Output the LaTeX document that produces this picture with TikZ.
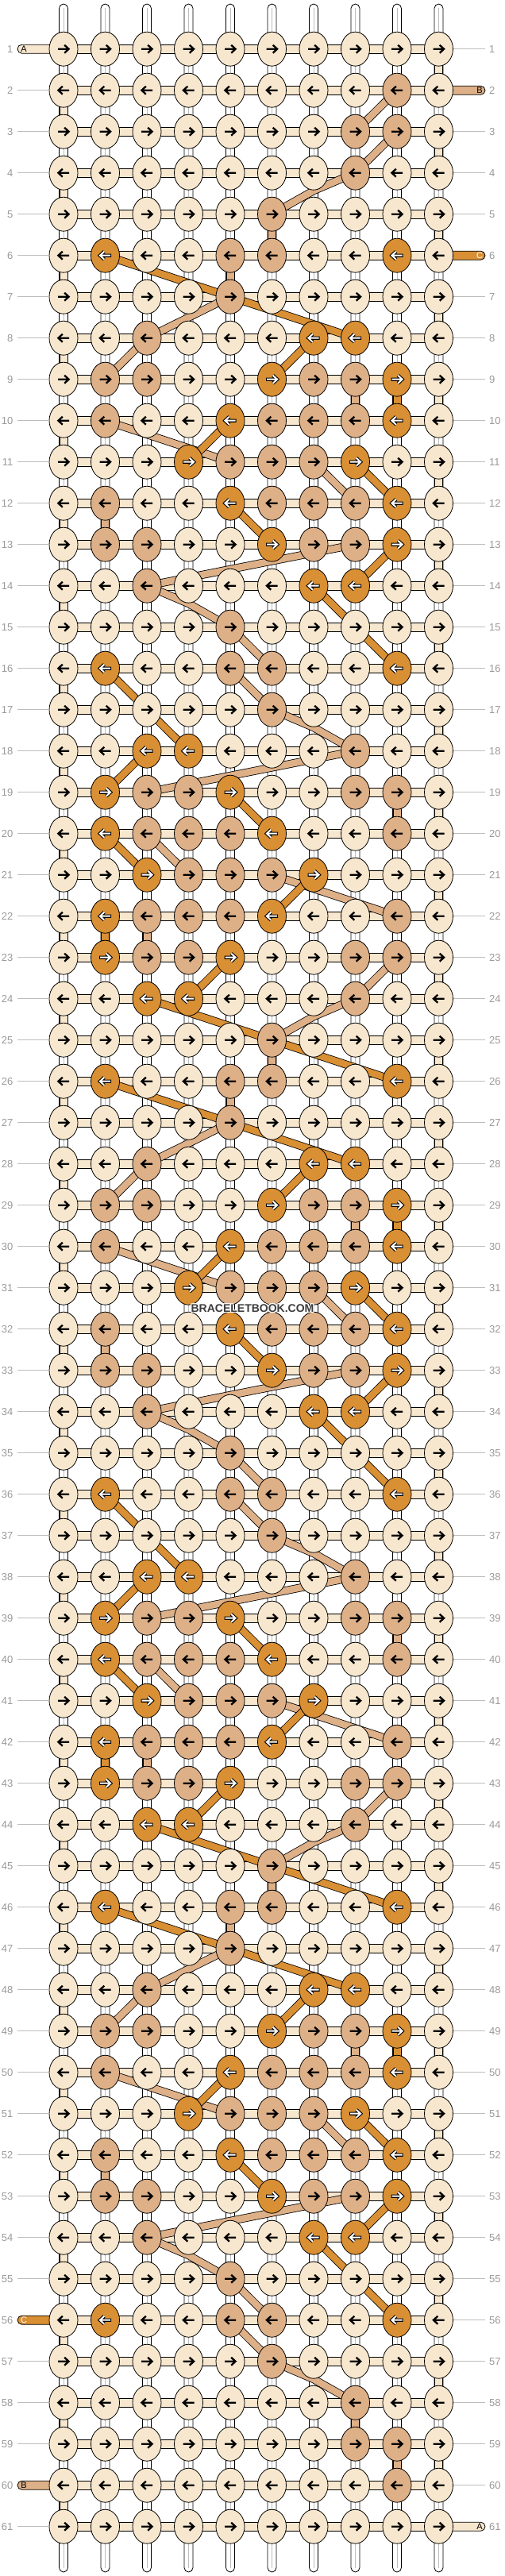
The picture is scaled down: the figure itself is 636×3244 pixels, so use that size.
\documentclass[tikz,border=0pt]{standalone}
\usepackage{fontspec}
\setmainfont{Liberation Sans}
\usetikzlibrary{shapes.geometric,calc}
\definecolor{cream}{HTML}{F7E7CE}
\definecolor{tanc}{HTML}{DEB088}
\definecolor{orng}{HTML}{D98F33}
\definecolor{lblgray}{HTML}{9A9A9A}
\definecolor{linegray}{HTML}{BDBDBD}
\definecolor{wmgray}{HTML}{3C3C3C}
\def\orngname{orng}
\newcommand\bbseg[6]{%
  \if#1v\draw[vbox, fill=#6] ([xshift=-5pt]p-#2-#3) rectangle ([xshift=5pt]p-#4-#5);\fi
  \if#1s\draw[band=#6] (p-#2-#3) -- (p-#4-#5);\fi
  \if#1b\draw[band=#6] (p-#2-#3) -- ($(p-#2-#3)!0.5!(p-#2-#5)+(0,22.4)$) -- (p-#4-#5);\fi
}
\tikzset{
  knot/.style={ellipse, draw=black, line width=0.8pt, minimum width=36pt, minimum height=43pt, inner sep=0pt, outer sep=0pt},
  strand/.style={draw=black, line width=0.8pt, fill=white, rounded corners=5.5pt},
  midline/.style={draw=linegray, line width=0.7pt},
  hbar/.style={draw=black, line width=0.8pt, fill=cream},
  vbox/.style={draw=black, line width=0.8pt},
  band/.style={draw=black, double=#1, double distance=8.5pt, line width=0.8pt, line join=round},
  lbl/.style={text=lblgray, font=\fontsize{13}{13}\selectfont, inner sep=0pt},
  gline/.style={draw=linegray, line width=0.9pt},
  pill/.style={draw=black, line width=0.8pt, fill=#1, rounded corners=5.5pt},
  endlbl/.style={font=\fontsize{11}{11}\selectfont, inner sep=0pt},
  wm/.style={font=\fontsize{14}{14}\selectfont\bfseries, inner sep=0pt},
  rarr/.pic={\draw[line width=2.3pt] (-7,0)--(6,0) (1.2,-5)--(6.6,0)--(1.2,5);},
  larr/.pic={\draw[line width=2.3pt] (7,0)--(-6,0) (-1.2,-5)--(-6.6,0)--(-1.2,5);},
  rarrw/.pic={\draw[line width=4.2pt] (-7.5,0)--(6,0) (1.2,-5)--(6.6,0)--(1.2,5);
              \draw[white, line width=2pt] (-6.5,0)--(5.5,0) (1.2,-5)--(6.6,0)--(1.2,5);},
  larrw/.pic={\draw[line width=4.2pt] (7.5,0)--(-6,0) (-1.2,-5)--(-6.6,0)--(-1.2,5);
              \draw[white, line width=2pt] (6.5,0)--(-5.5,0) (-1.2,-5)--(-6.6,0)--(-1.2,5);}
}
\begin{document}
\begin{tikzpicture}[x=1pt,y=-1pt]
\useasboundingbox (0,0) rectangle (636,3244);
\fill[white] (0,0) rectangle (636,3244);
% grid coordinates
\foreach \r in {1,...,61}{\foreach \ca in {1,...,10}{
  \coordinate (p-\r-\ca) at ({80+52.5*(\ca-1)},{61.7+52*(\r-1)});
}}
% vertical base strands
\foreach \ca in {1,...,10}{
  \coordinate (t-\ca) at ({80+52.5*(\ca-1)},5);
  \coordinate (b-\ca) at ({80+52.5*(\ca-1)},3239);
  \draw[strand] ([xshift=-5.5pt]t-\ca) rectangle ([xshift=5.5pt]b-\ca);
  \draw[midline] ([yshift=-5pt]t-\ca) -- ([yshift=5pt]b-\ca);
}
% working strand turns at the edges
\foreach \r in {1,3,...,59}{
  \pgfmathtruncatemacro\rs{\r+1}
  \draw[vbox, fill=cream] ([xshift=-5pt]p-\r-10) rectangle ([xshift=5pt]p-\rs-10);
}
\foreach \r in {2,4,...,60}{
  \pgfmathtruncatemacro\rs{\r+1}
  \draw[vbox, fill=cream] ([xshift=-5pt]p-\r-1) rectangle ([xshift=5pt]p-\rs-1);
}
% horizontal working strand
\foreach \r in {1,...,61}{
  \draw[hbar] ([yshift=5.5pt]p-\r-1) rectangle ([yshift=-5.5pt]p-\r-10);
}
% strand ends
\coordinate (e-1) at (22,61.7);
\draw[pill=cream] ([yshift=5.5pt]e-1) rectangle ([yshift=-5.5pt]p-1-1);
\node[endlbl] (el-1) at ([xshift=8pt]e-1) {A};
\coordinate (e-2) at (611,113.7);
\draw[pill=tanc] ([yshift=5.5pt]p-2-10) rectangle ([yshift=-5.5pt]e-2);
\node[endlbl] (el-2) at ([xshift=-7pt]e-2) {B};
\coordinate (e-6) at (611,321.7);
\draw[pill=orng] ([yshift=5.5pt]p-6-10) rectangle ([yshift=-5.5pt]e-6);
\node[endlbl, text=white] (el-6) at ([xshift=-7pt]e-6) {C};
\coordinate (e-56) at (22,2921.7);
\draw[pill=orng] ([yshift=5.5pt]e-56) rectangle ([yshift=-5.5pt]p-56-1);
\node[endlbl, text=white] (el-56) at ([xshift=8pt]e-56) {C};
\coordinate (e-60) at (22,3129.7);
\draw[pill=tanc] ([yshift=5.5pt]e-60) rectangle ([yshift=-5.5pt]p-60-1);
\node[endlbl] (el-60) at ([xshift=8pt]e-60) {B};
\coordinate (e-61) at (611,3181.7);
\draw[pill=cream] ([yshift=5.5pt]p-61-10) rectangle ([yshift=-5.5pt]e-61);
\node[endlbl] (el-61) at ([xshift=-7pt]e-61) {A};
% knot colours
\foreach \k in {0,20,40}{
  \foreach \ra/\ca in {6/5,6/6,7/5,8/3,9/2,9/3,9/7,9/8,10/2,10/6,10/7,10/8,11/5,11/6,11/7,12/2,12/6,12/7,12/8,13/2,13/3,13/7,13/8,14/3,15/5,16/5,16/6,17/6,18/8,19/3,19/4,19/8,19/9,20/3,20/4,20/5,20/9,21/4,21/5,21/6,22/3,22/4,22/5,22/9,23/3,23/4,23/8,23/9,24/8,25/6}{
    \pgfmathtruncatemacro\rr{\ra+\k}
    \ifnum\rr<59 \expandafter\gdef\csname kc-\rr-\ca\endcsname{tanc}\fi
  }
  \foreach \ra/\ca in {6/2,6/9,8/7,8/8,9/6,9/9,10/5,10/9,11/4,11/8,12/5,12/9,13/6,13/9,14/7,14/8,16/2,16/9,18/3,18/4,19/2,19/5,20/2,20/6,21/3,21/7,22/2,22/6,23/2,23/5,24/3,24/4}{
    \pgfmathtruncatemacro\rr{\ra+\k}
    \ifnum\rr<57 \expandafter\gdef\csname kc-\rr-\ca\endcsname{orng}\fi
  }
}
\foreach \ra/\ca in {2/9,3/8,3/9,4/8,5/6,59/8,59/9,60/9}{
  \expandafter\gdef\csname kc-\ra-\ca\endcsname{tanc}
}
% colour strand B (tan)
\foreach \ty/\ra/\ca/\rb/\cb in {s/2/9/3/8,s/3/9/4/8,b/4/8/5/6,v/5/6/6/6,v/58/8/59/8,v/59/9/60/9}{
  \bbseg{\ty}{\ra}{\ca}{\rb}{\cb}{tanc}
}
\foreach \k in {0,20,40}{
  \foreach \ty/\ra/\ca/\rb/\cb in {v/6/5/7/5,s/7/5/8/3,s/8/3/9/2,v/9/8/10/8,s/10/2/11/5,s/11/7/12/8,v/12/2/13/2,s/13/8/14/3,b/14/3/15/5,s/15/5/16/6,s/16/5/17/6,b/17/6/18/8,s/18/8/19/3,v/19/9/20/9,s/20/3/21/4,s/21/6/22/9,v/22/3/23/3,s/23/9/24/8,b/24/8/25/6,v/25/6/26/6}{
    \pgfmathtruncatemacro\rx{\ra+\k}
    \pgfmathtruncatemacro\ry{\rb+\k}
    \ifnum\ry<59 \bbseg{\ty}{\rx}{\ca}{\ry}{\cb}{tanc}\fi
  }
}
% colour strand C (orange)
\foreach \k in {0,20,40}{
  \foreach \ty/\ra/\ca/\rb/\cb in {s/6/2/8/8,s/8/7/9/6,v/9/9/10/9,s/10/5/11/4,s/11/8/12/9,s/12/5/13/6,s/13/9/14/8,s/14/7/16/9,s/16/2/18/4,s/18/3/19/2,s/19/5/20/6,s/20/2/21/3,s/21/7/22/6,v/22/2/23/2,s/23/5/24/4,s/24/3/26/9}{
    \pgfmathtruncatemacro\rx{\ra+\k}
    \pgfmathtruncatemacro\ry{\rb+\k}
    \ifnum\ry<57 \bbseg{\ty}{\rx}{\ca}{\ry}{\cb}{orng}\fi
  }
}
% knots
\foreach \r in {1,...,61}{\foreach \ca in {1,...,10}{
  \ifcsname kc-\r-\ca\endcsname \edef\kcol{\csname kc-\r-\ca\endcsname}\else \def\kcol{cream}\fi
  \node[knot, fill=\kcol] (n-\r-\ca) at (p-\r-\ca) {};
  \ifx\kcol\orngname
    \ifodd\r \pic at (p-\r-\ca) {rarrw};\else \pic at (p-\r-\ca) {larrw};\fi
  \else
    \ifodd\r \pic at (p-\r-\ca) {rarr};\else \pic at (p-\r-\ca) {larr};\fi
  \fi
}}
% row numbers and guide lines
\foreach \r in {1,...,61}{
  \node[lbl, anchor=east] (ll-\r) at (16.5,{61.7+52*(\r-1)}) {\r};
  \node[lbl, anchor=west] (rl-\r) at (616,{61.7+52*(\r-1)}) {\r};
  \coordinate (gl-\r) at (22,{61.7+52*(\r-1)});
  \coordinate (gr-\r) at (611,{61.7+52*(\r-1)});
}
\foreach \r in {2,...,55,57,58,59,61}{ \draw[gline] (gl-\r) -- (n-\r-1.west); }
\foreach \r in {1,3,4,5,7,8,...,60}{ \draw[gline] (n-\r-10.east) -- (gr-\r); }
% watermark
\coordinate (wmc) at (318,1648);
\foreach \dx/\dy [count=\i] in {1/0,-1/0,0/1,0/-1,1/1,1/-1,-1/1,-1/-1}{
  \node[wm, text=white] (wmh-\i) at ([xshift=\dx pt, yshift=\dy pt]wmc) {BRACELETBOOK.COM};
}
\node[wm, text=wmgray] (wm) at (wmc) {BRACELETBOOK.COM};
\end{tikzpicture}
\end{document}
